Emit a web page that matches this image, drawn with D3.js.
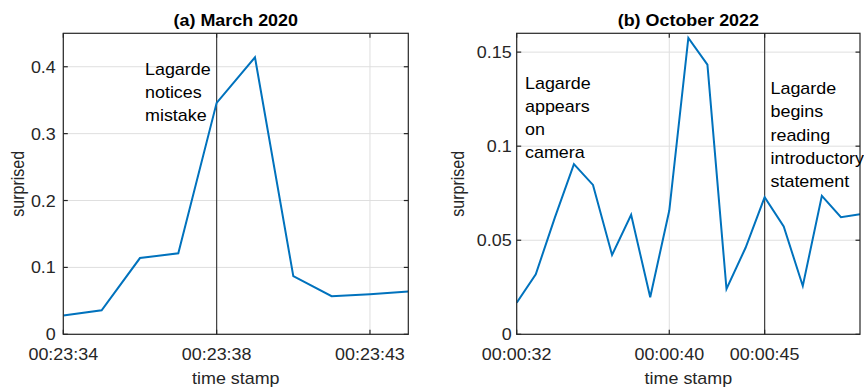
<!DOCTYPE html>
<html><head><meta charset="utf-8">
<script src="https://cdn.jsdelivr.net/npm/d3@7"></script>
<style>body{margin:0;background:#fff}svg{display:block}</style>
</head><body>
<script>
// ---- data ----
const leftTitle = "(a) March 2020";
const leftValues = [0.028, 0.036, 0.114, 0.121, 0.346, 0.414, 0.087, 0.057, 0.060, 0.064];
const leftTickIdx = [0, 4, 8];
const leftTickLabels = ["00:23:34", "00:23:38", "00:23:43"];
const leftYTicks = [0, 0.1, 0.2, 0.3, 0.4];
const leftYMax = 0.45;
const leftEventIdx = [4];
const leftNote = ["Lagarde", "notices", "mistake"];

const rightTitle = "(b) October 2022";
const rightValues = [0.0168, 0.0319, 0.062, 0.0905, 0.0794, 0.0422, 0.0635, 0.0197, 0.0658,
                     0.1575, 0.1433, 0.0241, 0.046, 0.0729, 0.0573, 0.0257, 0.0736, 0.0622, 0.0638];
const rightTickIdx = [0, 8, 13];
const rightTickLabels = ["00:00:32", "00:00:40", "00:00:45"];
const rightYTicks = [0, 0.05, 0.1, 0.15];
const rightYMax = 0.16;
const rightEventIdx = [13];
const rightNote1 = ["Lagarde", "appears", "on", "camera"];
const rightNote2 = ["Lagarde", "begins", "reading", "introductory", "statement"];

const xLabel = "time stamp";
const yLabel = "surprised";

// ---- drawing ----
const W = 864, H = 387;
const SX = 1.12; // horizontal glyph stretch
const FONT = "'Liberation Sans', Arial, Helvetica, sans-serif";
const AX = "#262626", GRID = "#dfdfdf", LINE = "#0072BD";

const svg = d3.select("body").append("svg").attr("width", W).attr("height", H);

function txt(g, x, y, s, opts = {}) {
  const t = g.append("text")
    .attr("transform", `translate(${x},${y}) scale(${SX},1)` + (opts.rot ? " rotate(-90)" : ""))
    .attr("font-family", FONT)
    .attr("font-size", opts.size || 16)
    .attr("font-weight", opts.bold ? "bold" : "normal")
    .attr("fill", opts.fill || "#262626")
    .attr("text-anchor", opts.anchor || "start")
    .text(s);
  return t;
}

function panel(cfg) {
  const g = svg.append("g");
  const x = d3.scaleLinear().domain([0, cfg.values.length - 1]).range([cfg.left, cfg.right]);
  const y = d3.scaleLinear().domain([0, cfg.ymax]).range([cfg.bottom, cfg.top]);

  // grid
  g.selectAll(".gy").data(cfg.yticks).join("line")
    .attr("x1", cfg.left).attr("x2", cfg.right)
    .attr("y1", d => y(d)).attr("y2", d => y(d))
    .attr("stroke", GRID).attr("stroke-width", 1);
  g.selectAll(".gx").data(cfg.tickIdx).join("line")
    .attr("x1", d => x(d)).attr("x2", d => x(d))
    .attr("y1", cfg.top).attr("y2", cfg.bottom)
    .attr("stroke", GRID).attr("stroke-width", 1);

  // event lines
  g.selectAll(".ev").data(cfg.events).join("line")
    .attr("x1", d => x(d)).attr("x2", d => x(d))
    .attr("y1", cfg.top).attr("y2", cfg.bottom)
    .attr("stroke", "#404040").attr("stroke-width", 1.2);

  // data line
  const clipId = "clip" + cfg.left;
  svg.append("clipPath").attr("id", clipId).append("rect")
    .attr("x", cfg.left).attr("y", cfg.top - 2)
    .attr("width", cfg.right - cfg.left).attr("height", cfg.bottom - cfg.top + 2);
  g.append("path").datum(cfg.values)
    .attr("clip-path", `url(#${clipId})`)
    .attr("d", d3.line().x((d, i) => x(i)).y(d => y(d)))
    .attr("fill", "none").attr("stroke", LINE).attr("stroke-width", 2)
    .attr("stroke-linejoin", "miter");

  // box
  g.append("rect").attr("x", cfg.left).attr("y", cfg.top)
    .attr("width", cfg.right - cfg.left).attr("height", cfg.bottom - cfg.top)
    .attr("fill", "none").attr("stroke", AX).attr("stroke-width", 1.2);

  // ticks (inside, all four sides)
  const tl = 4.5;
  cfg.yticks.forEach(v => {
    g.append("line").attr("x1", cfg.left).attr("x2", cfg.left + tl).attr("y1", y(v)).attr("y2", y(v)).attr("stroke", AX).attr("stroke-width", 1.2);
    g.append("line").attr("x1", cfg.right).attr("x2", cfg.right - tl).attr("y1", y(v)).attr("y2", y(v)).attr("stroke", AX).attr("stroke-width", 1.2);
  });
  cfg.tickIdx.forEach(i => {
    g.append("line").attr("x1", x(i)).attr("x2", x(i)).attr("y1", cfg.bottom).attr("y2", cfg.bottom - tl).attr("stroke", AX).attr("stroke-width", 1.2);
    g.append("line").attr("x1", x(i)).attr("x2", x(i)).attr("y1", cfg.top).attr("y2", cfg.top + tl).attr("stroke", AX).attr("stroke-width", 1.2);
  });

  // tick labels
  const yFmt = d3.format("~g");
  cfg.yticks.forEach(v => txt(g, cfg.left - cfg.ylabGap, y(v) + 6, yFmt(v), { anchor: "end" }));
  cfg.tickIdx.forEach((i, k) => txt(g, x(i), cfg.bottom + 25.5, cfg.tickLabels[k], { anchor: "middle" }));

  // axis labels + title
  const cx = (cfg.left + cfg.right) / 2;
  txt(g, cx, cfg.bottom + 49.5, xLabel, { anchor: "middle" });
  txt(g, cfg.ylabX, (cfg.top + cfg.bottom) / 2, yLabel, { anchor: "middle", rot: true });
  txt(g, cx, cfg.top - 7, cfg.title, { anchor: "middle", bold: true, fill: "#000" });

  // notes
  cfg.notes.forEach(n => n.lines.forEach((s, k) => txt(g, n.x, n.y + k * n.dy, s, { fill: "#000" })));
}

panel({
  left: 63.3, right: 408.3, top: 33.3, bottom: 334.3,
  values: leftValues, ymax: leftYMax, yticks: leftYTicks,
  tickIdx: leftTickIdx, tickLabels: leftTickLabels, events: leftEventIdx,
  title: leftTitle, ylabGap: 7.5, ylabX: 24,
  notes: [{ x: 145, y: 75, dy: 22.8, lines: leftNote }]
});
panel({
  left: 516.7, right: 860, top: 33.3, bottom: 334.3,
  values: rightValues, ymax: rightYMax, yticks: rightYTicks,
  tickIdx: rightTickIdx, tickLabels: rightTickLabels, events: rightEventIdx,
  title: rightTitle, ylabGap: 5, ylabX: 464,
  notes: [{ x: 525, y: 88.5, dy: 23.3, lines: rightNote1 },
          { x: 770.5, y: 94, dy: 23.3, lines: rightNote2 }]
});
</script>
</body></html>
